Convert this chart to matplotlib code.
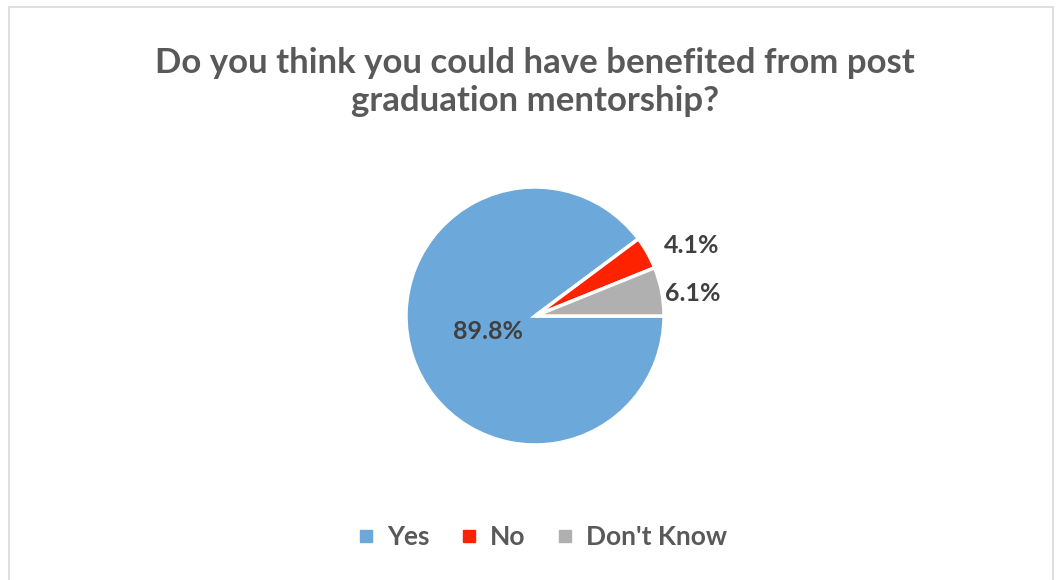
import numpy as np
import matplotlib
matplotlib.use("Agg")
import matplotlib.pyplot as plt
from matplotlib.patches import Rectangle

# data
categories = ["Yes", "No", "Don't Know"]
shares = [89.8, 4.1, 6.1]
colors = ["#6CA8DA", "#FF2200", "#B0B0B0"]
title = "Do you think you could have benefited from post\ngraduation mentorship?"

plt.rcParams['font.family'] = ['Lato', 'DejaVu Sans']

W, H = 1056, 580
fig = plt.figure(figsize=(W / 100, H / 100), dpi=100)

# light frame around the chart area
fig.patches.append(Rectangle((9 / W, -0.05), (1053 - 9) / W, 1.05 - 7 / H,
                             transform=fig.transFigure, fill=False,
                             edgecolor="#D9D9D9", linewidth=1.2))

fig.text(535 / W, 1 - 82 / H, title, ha='center', va='center',
         fontsize=25, fontweight='bold', color='#595959', linespacing=1.2)

# pie axes
cx, cy, r = 535, 316, 129
ax = fig.add_axes([(cx - r) / W, 1 - (cy + r) / H, 2 * r / W, 2 * r / H])
wedges, _ = ax.pie(shares, colors=colors, startangle=0, counterclock=False,
                   radius=1.0, wedgeprops=dict(edgecolor='white', linewidth=2.5))
ax.set_xlim(-1, 1)
ax.set_ylim(-1, 1)
ax.set_aspect('auto')
ax.axis('off')

for w, v in zip(wedges, shares):
    mid = np.deg2rad((w.theta1 + w.theta2) / 2)
    if v > 50:
        d = 0.38
        ax.text(d * np.cos(mid), d * np.sin(mid), f"{v:.1f}%", ha='center',
                va='center', fontsize=18, fontweight='bold', color='#404040')
    else:
        d = 1.15 if v < 5 else 1.03
        ax.text(d * np.cos(mid), d * np.sin(mid) - 0.02, f"{v:.1f}%", ha='left',
                va='center', fontsize=18, fontweight='bold', color='#404040',
                clip_on=False)

# legend
handles = [plt.Line2D([], [], marker='s', linestyle='', markersize=9,
                      markerfacecolor=c, markeredgecolor=c) for c in colors]
fig.legend(handles, categories, loc='center', bbox_to_anchor=(540 / W, 1 - 537 / H),
           ncol=3, frameon=False, handletextpad=0.3,
           columnspacing=1.0, handlelength=1.0, labelcolor='#595959',
           prop=dict(weight='bold', size=19))

fig.savefig("out.png", dpi=100, facecolor='white')
